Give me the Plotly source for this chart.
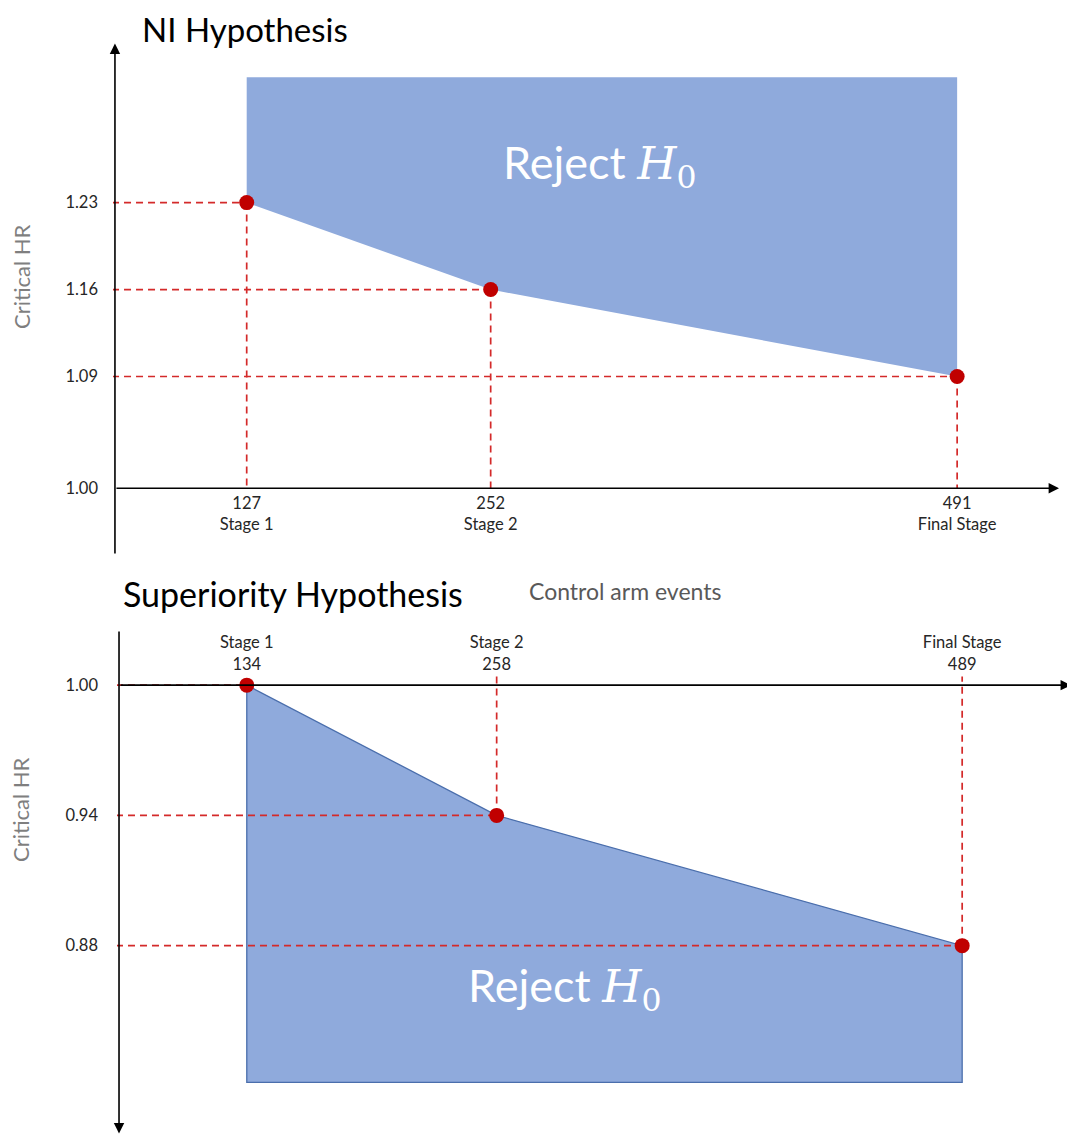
import plotly.graph_objects as go

# ---------------- data ----------------
ni_events = [127, 252, 491]
ni_stages = ["Stage 1", "Stage 2", "Final Stage"]
ni_hr = [1.23, 1.16, 1.09]
ni_yticks = [1.00, 1.09, 1.16, 1.23]

sup_events = [134, 258, 489]
sup_stages = ["Stage 1", "Stage 2", "Final Stage"]
sup_hr = [1.00, 0.94, 0.88]
sup_yticks = [1.00, 0.94, 0.88]

baseline = 1.00
ni_region_top = 1.331
sup_region_bottom = 0.817

# ---------------- layout constants ----------------
PAGE_MARGIN = 8            # default body margin of the html page
W, H = 1075 - PAGE_MARGIN, 1139 - PAGE_MARGIN
FONT = "Lato, 'Open Sans', sans-serif"
FILL = "#8FAADC"
RED_DOT = "#C00000"
RED_DASH = "#D42A2A"

def px_x(p):
    return (p - PAGE_MARGIN) / W

def px_y(p):
    return 1 - (p - PAGE_MARGIN) / H

# top panel axes
top_xr = [58.5, 543.7]
top_yr = [0.9463, 1.3609]
top_xd = [px_x(113), px_x(1060)]
top_yd = [px_y(555), px_y(40)]
# bottom panel axes
bot_xr = [69.6, 543.5]
bot_yr = [0.7923, 1.0254]
bot_xd = [px_x(117), px_x(1072)]
bot_yd = [px_y(1136), px_y(630)]

def ypos(val, rng, dom):
    return dom[0] + (val - rng[0]) / (rng[1] - rng[0]) * (dom[1] - dom[0])

ax_x_top = 59.5
ax_x_bot = 70.6

fig = go.Figure()

# ---------- top: NI ----------
fig.add_trace(go.Scatter(
    x=[ni_events[0], ni_events[0], ni_events[2], ni_events[2], ni_events[1], ni_events[0]],
    y=[ni_hr[0], ni_region_top, ni_region_top, ni_hr[2], ni_hr[1], ni_hr[0]],
    fill="toself", fillcolor=FILL, line=dict(width=0), mode="lines",
    hoverinfo="skip", xaxis="x", yaxis="y"))

dx, dy = [], []
for e, h in zip(ni_events, ni_hr):
    dx += [ax_x_top - 1.5, e, None, e, e, None]
    dy += [h, h, None, h, baseline, None]
fig.add_trace(go.Scatter(x=dx, y=dy, mode="lines",
                         line=dict(color=RED_DASH, width=1.7, dash="7px,5px"),
                         hoverinfo="skip", xaxis="x", yaxis="y"))
fig.add_trace(go.Scatter(x=ni_events, y=ni_hr, mode="markers",
                         marker=dict(color=RED_DOT, size=15),
                         xaxis="x", yaxis="y"))

# ---------- bottom: superiority ----------
fig.add_trace(go.Scatter(
    x=[sup_events[0], sup_events[1], sup_events[2], sup_events[2], sup_events[0], sup_events[0]],
    y=[sup_hr[0], sup_hr[1], sup_hr[2], sup_region_bottom, sup_region_bottom, sup_hr[0]],
    fill="toself", fillcolor=FILL, line=dict(width=1.3, color="#4A6EAC"), mode="lines",
    hoverinfo="skip", xaxis="x2", yaxis="y2"))

dx, dy = [], []
for e, h in zip(sup_events, sup_hr):
    dx += [ax_x_bot - 1.5, e, None, e, e, None]
    dy += [h, h, None, h, baseline + 0.004, None]
fig.add_trace(go.Scatter(x=dx, y=dy, mode="lines",
                         line=dict(color=RED_DASH, width=1.7, dash="7px,5px"),
                         hoverinfo="skip", xaxis="x2", yaxis="y2"))
fig.add_trace(go.Scatter(x=sup_events, y=sup_hr, mode="markers",
                         marker=dict(color=RED_DOT, size=15),
                         xaxis="x2", yaxis="y2"))

tickfont = dict(family=FONT, size=16.5, color="#262626")

fig.update_layout(
    width=W, height=H,
    margin=dict(l=0, r=0, t=0, b=0),
    paper_bgcolor="white", plot_bgcolor="rgba(0,0,0,0)",
    showlegend=False,
    xaxis=dict(domain=top_xd, range=top_xr, anchor="free",
               position=ypos(baseline, top_yr, top_yd),
               tickvals=ni_events,
               ticktext=[f"{e}<br>{s}" for e, s in zip(ni_events, ni_stages)],
               showgrid=False, zeroline=False, showline=False, ticks="",
               ticklabelstandoff=3, tickfont=tickfont),
    yaxis=dict(domain=top_yd, range=top_yr, anchor="x",
               tickvals=ni_yticks, ticktext=[f"{v:.2f}" for v in ni_yticks],
               showgrid=False, zeroline=False, showline=False, ticks="",
               ticklabelstandoff=14, tickfont=tickfont),
    xaxis2=dict(domain=bot_xd, range=bot_xr, anchor="free", side="top",
                position=ypos(baseline, bot_yr, bot_yd),
                tickvals=sup_events,
                ticktext=[f"{s}<br>{e}" for e, s in zip(sup_events, sup_stages)],
                showgrid=False, zeroline=False, showline=False, ticks="",
                ticklabelstandoff=12, tickfont=tickfont),
    yaxis2=dict(domain=bot_yd, range=bot_yr, anchor="x2",
                tickvals=sup_yticks, ticktext=[f"{v:.2f}" for v in sup_yticks],
                showgrid=False, zeroline=False, showline=False, ticks="",
                ticklabelstandoff=18, tickfont=tickfont),
)

arrow = dict(text="", showarrow=True, arrowhead=2, arrowsize=1.3,
             arrowwidth=1.6, arrowcolor="black", standoff=0, startstandoff=0)
anns = [
    # top axes
    dict(xref="x", yref="y", x=543.2, y=baseline, axref="x", ayref="y",
         ax=ax_x_top, ay=baseline, **arrow),
    dict(xref="x", yref="y", x=ax_x_top, y=1.358, axref="x", ayref="y",
         ax=ax_x_top, ay=0.9463, **arrow),
    # bottom axes
    dict(xref="x2", yref="y2", x=543.0, y=baseline, axref="x2", ayref="y2",
         ax=ax_x_bot, ay=baseline, **arrow),
    dict(xref="x2", yref="y2", x=ax_x_bot, y=0.7935, axref="x2", ayref="y2",
         ax=ax_x_bot, ay=1.0254, **arrow),
]
fig.update_layout(annotations=anns)

def txt(x, y, text, size, color="black", xanchor="left", angle=0, yanchor="middle"):
    fig.add_annotation(xref="paper", yref="paper", x=px_x(x), y=px_y(y),
                       text=text, showarrow=False, xanchor=xanchor, yanchor=yanchor,
                       textangle=angle, borderpad=0,
                       font=dict(family=FONT, size=size, color=color))

txt(141, 8, "NI Hypothesis", 33, yanchor="top")
txt(122, 593, "Superiority Hypothesis", 34)
txt(528, 591, "Control arm events", 23, color="#595959")
txt(22, 277, "Critical HR", 22, color="#7F7F7F", xanchor="center", angle=-90)
txt(20, 810, "Critical HR", 22, color="#7F7F7F", xanchor="center", angle=-90)

reject = ("Reject <span style=\"font-family:'DejaVu Serif', serif\"><i>H</i>"
          "<sub>0</sub></span>")
txt(600, 165, reject, 45, color="white", xanchor="center")
txt(565, 988, reject, 45, color="white", xanchor="center")

fig.write_html("out.html")
